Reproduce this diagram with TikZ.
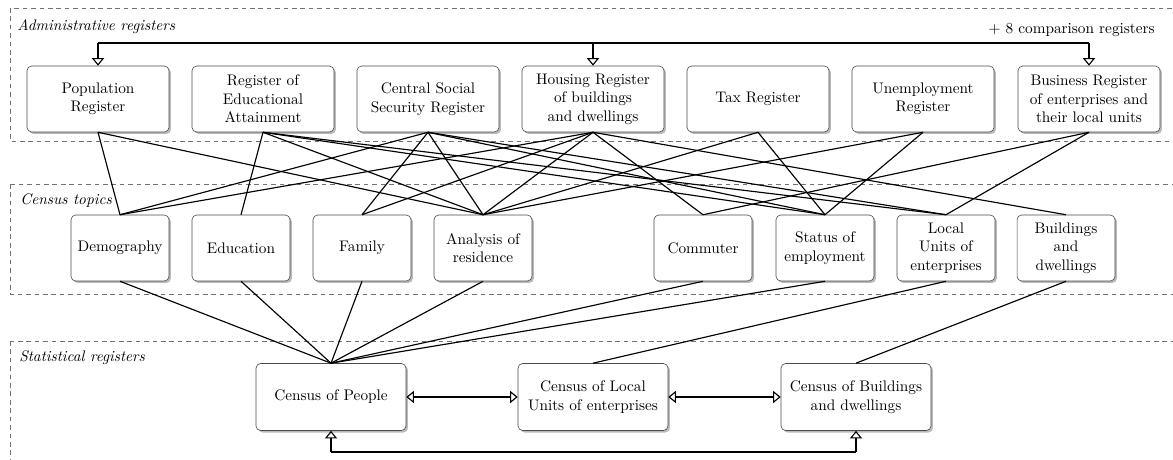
\documentclass[tikz,border=0pt]{standalone}
\usetikzlibrary{arrows.meta,shadows}
\begin{document}
\begin{tikzpicture}[x=0.6536pt,y=-0.6536pt,
  box/.style={draw=black!70,fill=white,rounded corners=3pt,align=center,
    inner sep=1pt,drop shadow={shadow xshift=1.3pt,shadow yshift=-1.3pt,opacity=0.45,fill=black!60}},
  topbox/.style={box,minimum width=92.8pt,minimum height=43.1pt,text width=88pt},
  midbox/.style={box,minimum width=64pt,minimum height=43.1pt,text width=62pt},
  botbox/.style={box,minimum width=98pt,minimum height=43.8pt,text width=94pt},
  area/.style={draw=black!55,dash pattern=on 3pt off 2.5pt},
  arealabel/.style={font=\itshape,anchor=base west,inner sep=0pt},
  link/.style={draw=black,line width=0.75pt},
  tri/.style={-{Triangle[open,width=8pt,length=5pt]},line width=0.75pt},
  bitri/.style={{Triangle[open,width=8pt,length=5pt]}-{Triangle[open,width=8pt,length=5pt]},line width=0.75pt}
]
\useasboundingbox (0,0) rectangle (1173,459);
% areas
\draw[area] (10,8) rectangle (1190,141);
\draw[area] (10,184) rectangle (1190,294);
\draw[area] (10,341) rectangle (1190,480);
\node[arealabel] (la) at (17,30) {Administrative registers};
\node[arealabel] (lc) at (20,204) {Census topics};
\node[arealabel] (ls) at (19,361) {Statistical registers};
% top row
\node[topbox] (pop) at (98,99) {Population\\Register};
\node[topbox] (edr) at (263,99) {Register of\\Educational\\Attainment};
\node[topbox] (css) at (428,99) {Central Social\\Security Register};
\node[topbox] (hou) at (593,99) {Housing Register\\of buildings\\and dwellings};
\node[topbox] (tax) at (758,99) {Tax Register};
\node[topbox] (une) at (923,99) {Unemployment\\Register};
\node[topbox] (bus) at (1089,99) {Business Register\\of enterprises and\\their local units};
% middle row
\node[midbox] (dem) at (120,248) {Demography};
\node[midbox] (edu) at (241,248) {Education};
\node[midbox] (fam) at (362,248) {Family};
\node[midbox] (ana) at (483,248) {Analysis of\\residence};
\node[midbox] (com) at (703,248) {Commuter};
\node[midbox] (sta) at (825,248) {Status of\\employment};
\node[midbox] (loc) at (946,248) {Local\\Units of\\enterprises};
\node[midbox] (bld) at (1066,248) {Buildings\\and\\dwellings};
% bottom row
\node[botbox] (cp) at (331,397) {Census of People};
\node[botbox] (cl) at (593,397) {Census of Local\\Units of enterprises};
\node[botbox] (cb) at (856,397) {Census of Buildings\\and dwellings};
% comparison registers bus
\node[anchor=base east,inner sep=0pt] (cmp) at (1155,33) {+ 8 comparison registers};
\coordinate (tl) at (98,43);
\coordinate (tr) at (1089,43);
\draw[line width=0.75pt] (tl) -- (tr);
\draw[tri] (tl) -- (pop.north);
\draw[tri] (hou.north |- tl) -- (hou.north);
\draw[tri] (tr) -- (bus.north);
% top -> middle
\foreach \a/\b in {pop/dem,pop/ana,
  edr/edu,edr/ana,edr/sta,edr/loc,
  css/dem,css/fam,css/ana,css/sta,css/loc,
  hou/dem,hou/fam,hou/ana,hou/com,hou/bld,
  tax/ana,tax/sta,
  une/ana,une/sta,
  bus/com,bus/loc}
  \draw[link] (\a.south) -- (\b.north);
% middle -> bottom
\foreach \a in {dem,edu,fam,ana,com,sta}
  \draw[link] (\a.south) -- (cp.north);
\draw[link] (loc.south) -- (cl.north);
\draw[link] (bld.south) -- (cb.north);
% bottom arrows
\draw[bitri] (cp.east) -- (cl.west);
\draw[bitri] (cl.east) -- (cb.west);
\coordinate (bl) at (331,452);
\coordinate (br) at (856,452);
\draw[line width=0.75pt] (bl) -- (br);
\draw[tri] (bl) -- (cp.south);
\draw[tri] (br) -- (cb.south);
\end{tikzpicture}
\end{document}
